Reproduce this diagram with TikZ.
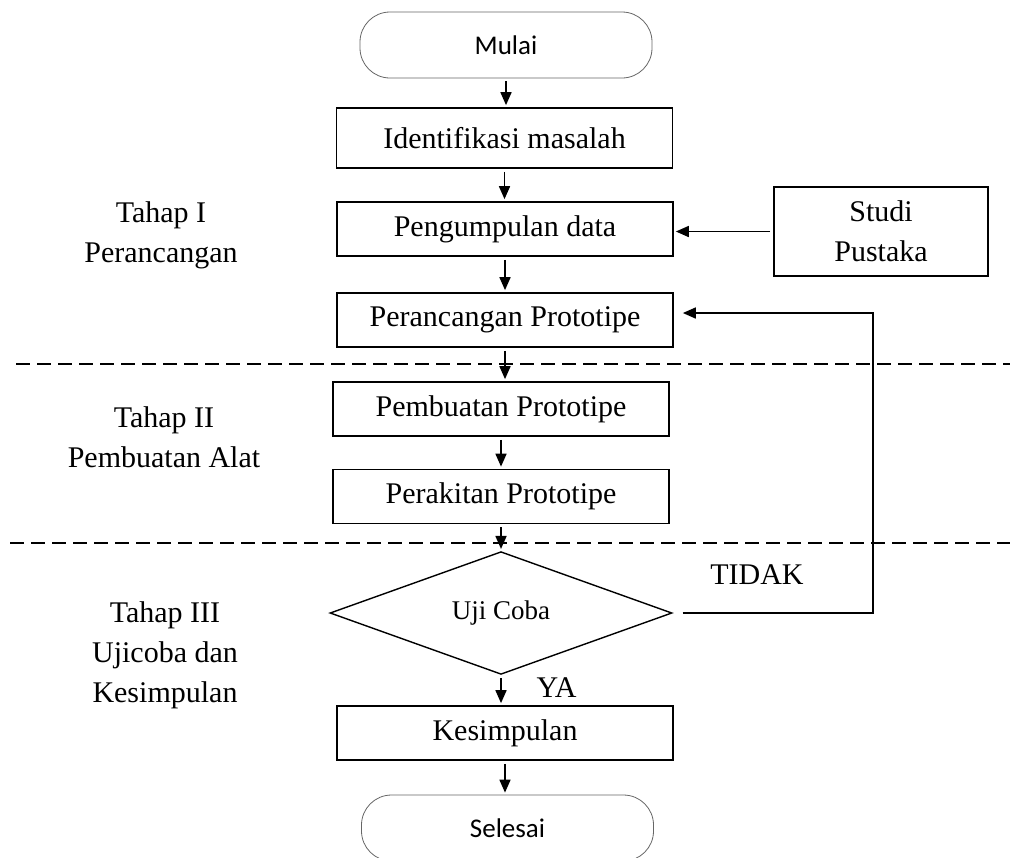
\documentclass[tikz,border=0pt]{standalone}
\usepackage{fontspec}
\setmainfont{Liberation Serif}
\newfontfamily\calibri{Carlito}
\usepackage{tikz}
\usetikzlibrary{arrows.meta}
\usetikzlibrary{shapes.geometric}
\usepackage{xcolor}

\tikzset{
    proses/.style={draw, line width=0.85pt, minimum width=168pt, minimum height=27pt, inner sep=0pt},
    terminal/.style={draw=black!60, line width=0.4pt, rounded corners=15pt, minimum width=146pt, minimum height=33pt, inner sep=0pt, font=\calibri\fontsize{13.5}{16}\selectfont},
    keputusan/.style={draw, diamond, line width=0.7pt, minimum width=171pt, minimum height=55pt, inner sep=0pt, font=\fontsize{13.5}{16}\selectfont},
    panah/.style={-{Triangle[length=6.5pt,width=5.5pt]}, line width=0.85pt, shorten <=1.5pt, shorten >=1pt},
    tahap/.style={align=center, font=\fontsize{15}{20}\selectfont},
    pemisah/.style={dashed, dash pattern=on 7pt off 3.5pt, line width=0.8pt}
}

\begin{document}
\begin{tikzpicture}[x=0.5pt, y=-0.5pt, font=\fontsize{15}{20}\selectfont]
    \useasboundingbox (0,0) rectangle (1010,857);

    \node[terminal] (mulai) at (506,45) {Mulai};
    \node[proses, minimum height=30pt] (identifikasi) at (504.5,138) {Identifikasi masalah};
    \node[proses] (kumpul) at (505,229) {Pengumpulan data};
    \node[proses, align=center, minimum width=107pt, minimum height=44.5pt] (studi) at (881,231.5) {Studi\\Pustaka};
    \node[proses] (ranc) at (505,320) {Perancangan Prototipe};
    \node[proses] (buat) at (501,409) {Pembuatan Prototipe};
    \node[proses] (rakit) at (501,496.5) {Perakitan Prototipe};
    \node[keputusan] (uji) at (501,613) {Uji Coba};
    \node[proses] (simpul) at (505,733) {Kesimpulan};
    \node[terminal] (selesai) at (507.5,828) {Selesai};

    \node[tahap] (tahap1) at (161,235) {Tahap I\\Perancangan};
    \node[tahap] (tahap2) at (164,437) {Tahap II\\Pembuatan Alat};
    \node[tahap] (tahap3) at (165,655) {Tahap III\\Ujicoba dan\\Kesimpulan};

    \draw[pemisah] (16,364) -- (1010,364);
    \draw[pemisah] (10,543) -- (1010,543);

    \draw[panah] (mulai.south) -- (mulai.south |- identifikasi.north);
    \draw[panah] (identifikasi.south) -- (identifikasi.south |- kumpul.north);
    \draw[panah] (kumpul.south) -- (kumpul.south |- ranc.north);
    \draw[panah] (ranc.south) -- (ranc.south |- buat.north);
    \draw[panah] (buat.south) -- (buat.south |- rakit.north);
    \draw[panah] (rakit.south) -- (rakit.south |- uji.north);
    \draw[panah] (uji.south) -- (uji.south |- simpul.north)
        node[pos=0.4, right=14pt] (ya) {YA};
    \draw[panah] (simpul.south) -- (simpul.south |- selesai.north);
    \draw[panah] (studi.west) -- (studi.west -| kumpul.east);

    \coordinate (balik) at (873,613);
    \draw[panah, shorten <=5pt, shorten >=4.5pt] (uji.east) -- (balik) |- ([yshift=3.5pt]ranc.east);
    \node (tidak) at (757,575) {TIDAK};
\end{tikzpicture}
\end{document}
